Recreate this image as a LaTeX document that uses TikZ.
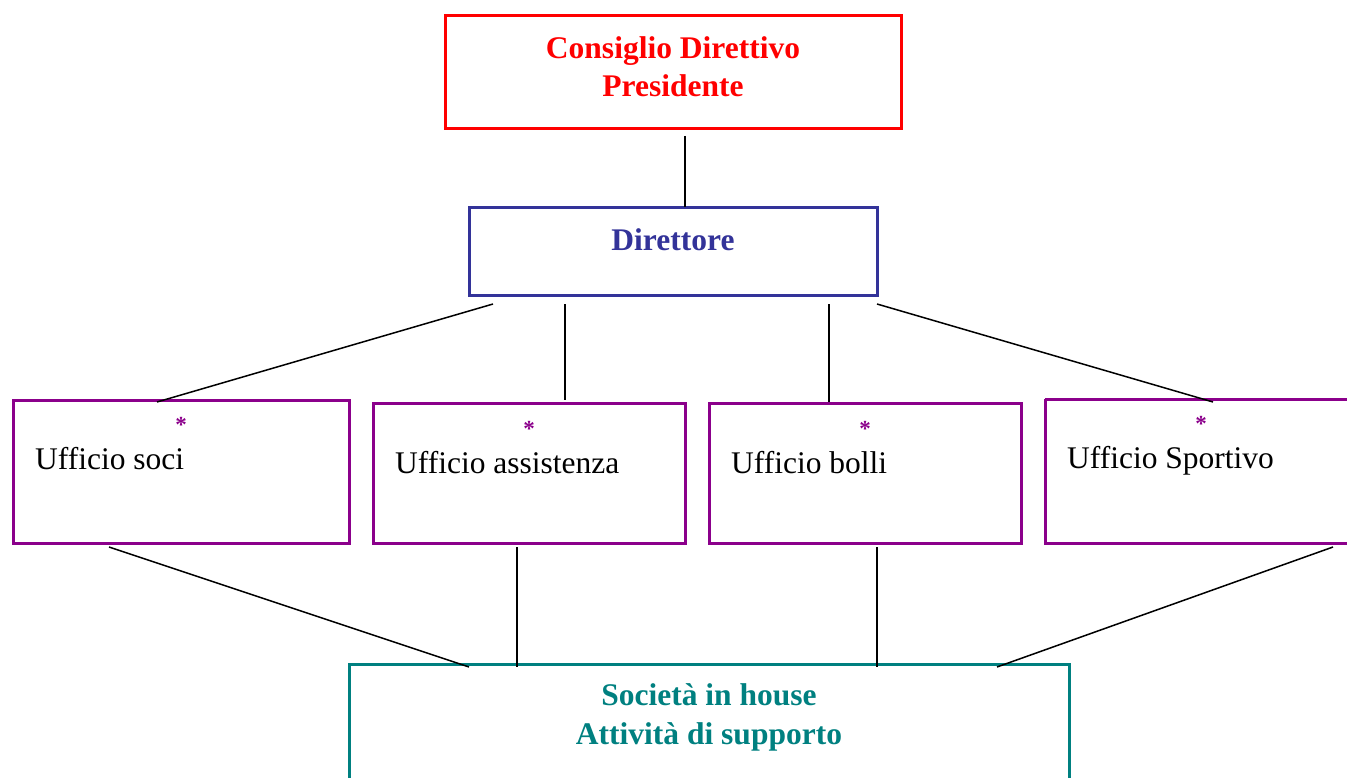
\documentclass[tikz,border=0pt]{standalone}
\usepackage{fontspec}
\setmainfont{Liberation Serif}
\definecolor{cdred}{HTML}{FF0000}
\definecolor{dirblue}{HTML}{333399}
\definecolor{uffpurple}{HTML}{8B008B}
\definecolor{socteal}{HTML}{008080}
\begin{document}
\begin{tikzpicture}[x=1pt,y=-1pt,
  boxline/.style={line width=3pt},
  conn/.style={line width=1.5pt,black},
  bigtxt/.style={anchor=base,font=\fontsize{31.5}{38}\selectfont\bfseries,inner sep=0pt},
  ufftxt/.style={anchor=base west,font=\fontsize{31.5}{38}\selectfont,inner sep=0pt},
  startxt/.style={anchor=center,font=\fontsize{23}{23}\selectfont\bfseries,text=uffpurple,inner sep=0pt}]
\useasboundingbox (0,0) rectangle (1347,778);
% boxes
\draw[boxline,cdred] (445,16) rectangle (901,129);
\draw[boxline,dirblue] (469,208) rectangle (877,295);
\draw[boxline,uffpurple] (13,400) rectangle (349,543);
\draw[boxline,uffpurple] (373,403) rectangle (685,543);
\draw[boxline,uffpurple] (709,403) rectangle (1021,543);
\draw[boxline,uffpurple] (1045,399) -- (1352,399) (1045,399) -- (1045,543) -- (1352,543);
\draw[boxline,socteal] (349,790) -- (349,664) -- (1069,664) -- (1069,790);
% texts
\node[bigtxt,text=cdred] (cd1) at (673,59) {Consiglio Direttivo};
\node[bigtxt,text=cdred] (cd2) at (673,97) {Presidente};
\node[bigtxt,text=dirblue] (dir) at (673,251) {Direttore};
\node[startxt] (s1) at (181,425) {*};
\node[startxt] (s2) at (529,429) {*};
\node[startxt] (s3) at (865,429) {*};
\node[startxt] (s4) at (1201,424) {*};
\node[ufftxt] (u1) at (35,469) {Ufficio soci};
\node[ufftxt] (u2) at (395,473) {Ufficio assistenza};
\node[ufftxt] (u3) at (731,473) {Ufficio bolli};
\node[ufftxt] (u4) at (1067,468) {Ufficio Sportivo};
\node[bigtxt,text=socteal] (so1) at (709,705) {Società in house};
\node[bigtxt,text=socteal] (so2) at (709,744) {Attività di supporto};
% connector end points
\coordinate (a0) at (685,136); \coordinate (a1) at (685,207);
\coordinate (b0) at (493,304); \coordinate (b1) at (157,402);
\coordinate (c0) at (565,304); \coordinate (c1) at (565,400);
\coordinate (d0) at (829,304); \coordinate (d1) at (829,402);
\coordinate (e0) at (877,304); \coordinate (e1) at (1213,402);
\coordinate (f0) at (109,547); \coordinate (f1) at (469,667);
\coordinate (g0) at (517,547); \coordinate (g1) at (517,667);
\coordinate (h0) at (877,547); \coordinate (h1) at (877,667);
\coordinate (i0) at (1333,547); \coordinate (i1) at (997,667);
\draw[conn] (a0) -- (a1);
\draw[conn] (b0) -- (b1);
\draw[conn] (c0) -- (c1);
\draw[conn] (d0) -- (d1);
\draw[conn] (e0) -- (e1);
\draw[conn] (f0) -- (f1);
\draw[conn] (g0) -- (g1);
\draw[conn] (h0) -- (h1);
\draw[conn] (i0) -- (i1);
\end{tikzpicture}
\end{document}
